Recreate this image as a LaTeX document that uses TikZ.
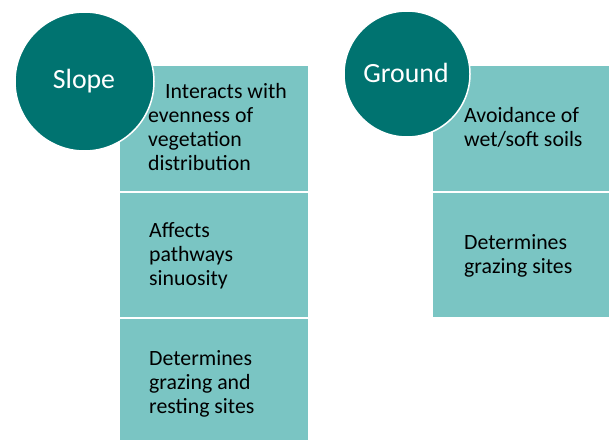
\documentclass[tikz,border=0pt]{standalone}
\usepackage{fontspec}
\setmainfont{Carlito}
\definecolor{circ}{RGB}{0,115,112}
\definecolor{boxc}{RGB}{122,197,195}
\begin{document}
\begin{tikzpicture}[x=1pt,y=-1pt,
  cell/.style={fill=boxc, draw=none, inner sep=0, anchor=north west},
  disc/.style={circle, fill=circ, draw=white, line width=1.5pt, inner sep=0},
  txt/.style={anchor=west, align=left, inner sep=0, font=\fontsize{21.8}{24}\selectfont, text=black},
  head/.style={anchor=base, text=white, inner sep=0, font=\fontsize{27.8}{32}\selectfont}]
\useasboundingbox (0,0) rectangle (609,439);
\clip (0,0) rectangle (609,439);
% left column boxes
\node[cell, minimum width=188pt, minimum height=125pt] (l1) at (120,66) {};
\node[cell, minimum width=188pt, minimum height=124pt] (l2) at (120,193) {};
\node[cell, minimum width=188pt, minimum height=126pt] (l3) at (120,319) {};
% right column boxes
\node[cell, minimum width=180pt, minimum height=125pt] (r1) at (433,66) {};
\node[cell, minimum width=180pt, minimum height=124pt] (r2) at (433,193) {};
% circles
\node[disc, minimum size=139pt] (slope) at (84.5,81.5) {};
\node[disc, minimum size=126pt] (ground) at (407,74) {};
\node[head] (slopet) at (84,88) {Slope};
\node[head] (groundt) at (406,82) {Ground};
% texts
\node[txt] (t1) at (148,127) {\hspace*{17pt}Interacts with\\evenness of\\vegetation\\distribution};
\node[txt] (t2) at (149,256) {Affects\\pathways\\sinuosity};
\node[txt] (t3) at (149,384) {Determines\\grazing and\\resting sites};
\node[txt] (t4) at (464,127) {Avoidance of\\wet/soft soils};
\node[txt] (t5) at (464,256) {Determines\\grazing sites};
\end{tikzpicture}
\end{document}
